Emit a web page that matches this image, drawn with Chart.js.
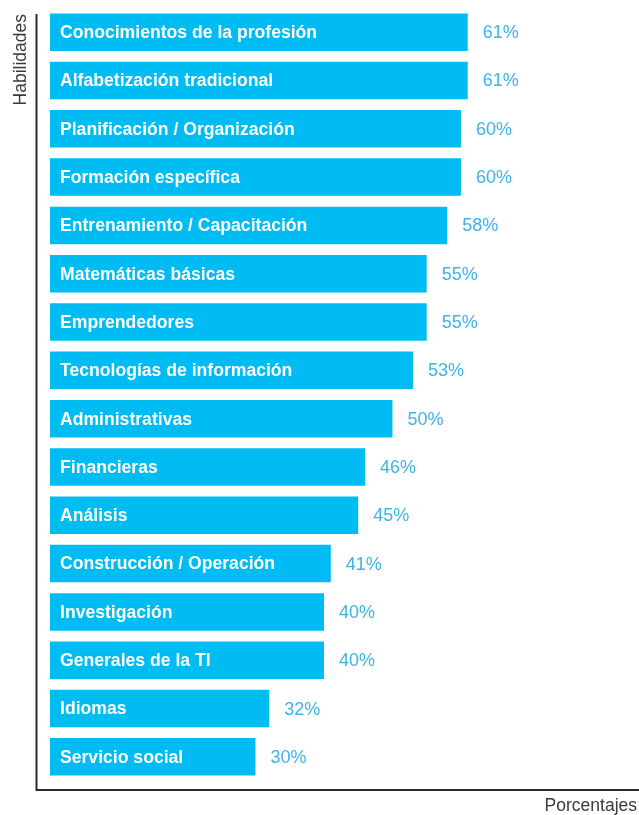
<!DOCTYPE html>
<html>
<head>
<meta charset="utf-8">
<script src="https://cdn.jsdelivr.net/npm/chart.js@4"></script>
<style>
  html, body { margin: 0; padding: 0; background: #fff; }
  #wrap { width: 639px; height: 815px; }
</style>
</head>
<body>
<div id="wrap"><canvas id="chartHabilidades" width="639" height="815"></canvas></div>
<script>
const habilidades = [
    "Conocimientos de la profesión",
    "Alfabetización tradicional",
    "Planificación / Organización",
    "Formación específica",
    "Entrenamiento / Capacitación",
    "Matemáticas básicas",
    "Emprendedores",
    "Tecnologías de información",
    "Administrativas",
    "Financieras",
    "Análisis",
    "Construcción / Operación",
    "Investigación",
    "Generales de la TI",
    "Idiomas",
    "Servicio social",
];
const porcentajes = [61, 61, 60, 60, 58, 55, 55, 53, 50, 46, 45, 41, 40, 40, 32, 30];

const colorBarra = "#00bcf2";
const colorValor = "#3cb4e6";
const colorEje = "#2b2b2b";

// etiquetas dentro de la barra y el porcentaje a la derecha
const etiquetas = {
    id: "etiquetas",
    afterDatasetsDraw(chart) {
        const ctx = chart.ctx;
        const meta = chart.getDatasetMeta(0);
        const area = chart.chartArea;
        ctx.save();
        ctx.textBaseline = "middle";
        meta.data.forEach((bar, i) => {
            ctx.font = "bold 17.6px 'Liberation Sans', Arial, sans-serif";
            ctx.fillStyle = "#ffffff";
            ctx.textAlign = "left";
            ctx.fillText(chart.data.labels[i], area.left + 10, bar.y + 1);

            ctx.font = "18px 'Liberation Sans', Arial, sans-serif";
            ctx.fillStyle = colorValor;
            ctx.fillText(porcentajes[i] + "%", bar.x + 15, bar.y + 1);
        });
        ctx.restore();
    },
};

// ejes a mano, separados un poco de las barras
const ejes = {
    id: "ejes",
    afterDraw(chart) {
        const ctx = chart.ctx;
        const area = chart.chartArea;
        const x0 = area.left - 13.5;
        const y0 = area.bottom + 9;
        ctx.save();
        ctx.strokeStyle = colorEje;
        ctx.lineWidth = 2;
        ctx.beginPath();
        ctx.moveTo(x0, area.top + 6);
        ctx.lineTo(x0, y0);
        ctx.lineTo(chart.width, y0);
        ctx.stroke();

        ctx.fillStyle = "#3a3a3a";
        ctx.font = "17.5px 'Liberation Sans', Arial, sans-serif";
        ctx.textBaseline = "middle";
        ctx.textAlign = "right";
        ctx.fillText("Porcentajes", chart.width - 2, y0 + 16);

        ctx.translate(21, area.top + 6);
        ctx.rotate(-Math.PI / 2);
        ctx.textAlign = "right";
        ctx.fillText("Habilidades", 0, 0);
        ctx.restore();
    },
};

new Chart(document.getElementById("chartHabilidades"), {
    type: "bar",
    data: {
        labels: habilidades,
        datasets: [{
            label: "Habilidades",
            data: porcentajes,
            backgroundColor: colorBarra,
            borderWidth: 0,
            barPercentage: 0.777,
            categoryPercentage: 1,
        }, ],
    },
    options: {
        indexAxis: "y",
        responsive: false,
        animation: false,
        layout: {
            padding: { left: 50, right: 0, top: 8, bottom: 34 },
        },
        scales: {
            x: { display: false, min: 0, max: 86 },
            y: { display: false },
        },
        plugins: {
            legend: { display: false },
            tooltip: { enabled: false },
        },
    },
    plugins: [etiquetas, ejes],
});
</script>
</body>
</html>
